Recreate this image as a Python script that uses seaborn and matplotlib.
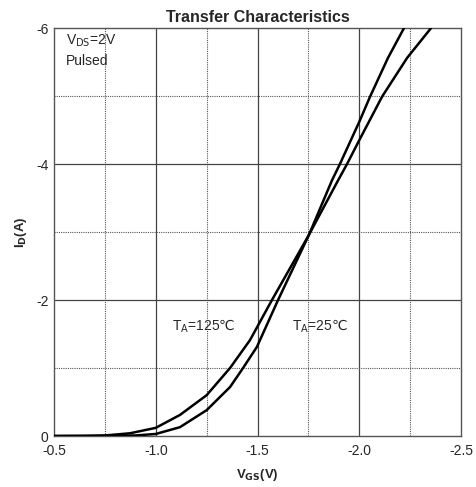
import numpy as np
import pandas as pd
import matplotlib.pyplot as plt
import seaborn as sns

sns.set_style("white")
plt.rcParams['font.family'] = ['Liberation Sans', 'DejaVu Sans']

# Curves (V_GS in volts, I_D in amps)
vgs_125 = [-0.5, -0.65, -0.75, -0.873, -1.0, -1.119, -1.25, -1.365, -1.463, -1.571,
           -1.753, -1.896, -1.94, -2.0, -2.112, -2.235, -2.353]
id_125 = [0.0, -0.002, -0.008, -0.04, -0.12, -0.31, -0.60, -1.0, -1.41, -2.0,
          -2.96, -3.76, -4.0, -4.35, -4.99, -5.56, -6.0]

vgs_25 = [-0.5, -0.75, -0.9, -1.0, -1.119, -1.25, -1.365, -1.429, -1.497, -1.601,
          -1.753, -1.866, -1.905, -2.0, -2.053, -2.141, -2.22]
id_25 = [0.0, -0.002, -0.008, -0.03, -0.13, -0.38, -0.72, -1.0, -1.31, -2.0,
         -2.96, -3.76, -4.0, -4.62, -4.99, -5.56, -6.0]

x_major = [-0.5, -1.0, -1.5, -2.0, -2.5]
x_minor = [-0.75, -1.25, -1.75, -2.25]
y_major = [0, -2, -4, -6]
y_minor = [-1, -3, -5]

df = pd.concat([
    pd.DataFrame({'vgs': vgs_125, 'id': id_125, 'temp': '125'}),
    pd.DataFrame({'vgs': vgs_25, 'id': id_25, 'temp': '25'}),
])

fig = plt.figure(figsize=(4.77, 4.87), dpi=100)
ax = fig.add_axes([0.1132, 0.1047, 0.8533, 0.8378])

# grid: solid at major ticks, dotted at minor ones
for x in x_major[1:-1]:
    ax.axvline(x, color='#444444', lw=0.9, zorder=1)
for x in x_minor:
    ax.axvline(x, color='#555555', lw=0.8, ls=(0, (1, 1)), zorder=1)
for y in y_major[1:-1]:
    ax.axhline(y, color='#444444', lw=0.9, zorder=1)
for y in y_minor:
    ax.axhline(y, color='#555555', lw=0.8, ls=(0, (1, 1)), zorder=1)

sns.lineplot(data=df, x='vgs', y='id', units='temp', estimator=None,
             color='black', lw=1.8, sort=False, ax=ax, zorder=3,
             solid_joinstyle='round', solid_capstyle='round')

ax.set_xlim(-0.5, -2.5)
ax.set_ylim(0, -6)
ax.set_xticks(x_major)
ax.set_xticklabels(['-0.5', '-1.0', '-1.5', '-2.0', '-2.5'])
ax.set_yticks(y_major)
ax.set_yticklabels(['0', '-2', '-4', '-6'])
ax.tick_params(labelsize=10, length=0)
ax.tick_params(axis='x', pad=6)
ax.tick_params(axis='y', pad=4)

for s in ax.spines.values():
    s.set_color('#555555')
    s.set_linewidth(1.0)

ax.set_title('Transfer Characteristics', fontsize=11.5, fontweight='bold', pad=4)
ax.set_xlabel('V$_{\\mathbf{GS}}$(V)', fontsize=9.5, fontweight='bold', labelpad=6)
ax.set_ylabel('I$_{\\mathbf{D}}$(A)', fontsize=9.5, fontweight='bold', labelpad=5)

ax.text(-0.56, -5.75, 'V$_{\\mathrm{DS}}$=2V', fontsize=10)
ax.text(-0.56, -5.45, 'Pulsed', fontsize=10)
ax.text(-1.08, -1.55, 'T$_{\\mathrm{A}}$=125$\\mathrm{\u2103}$', fontsize=10)
ax.text(-1.67, -1.55, 'T$_{\\mathrm{A}}$=25$\\mathrm{\u2103}$', fontsize=10)

fig.savefig('out.png', dpi=100)
